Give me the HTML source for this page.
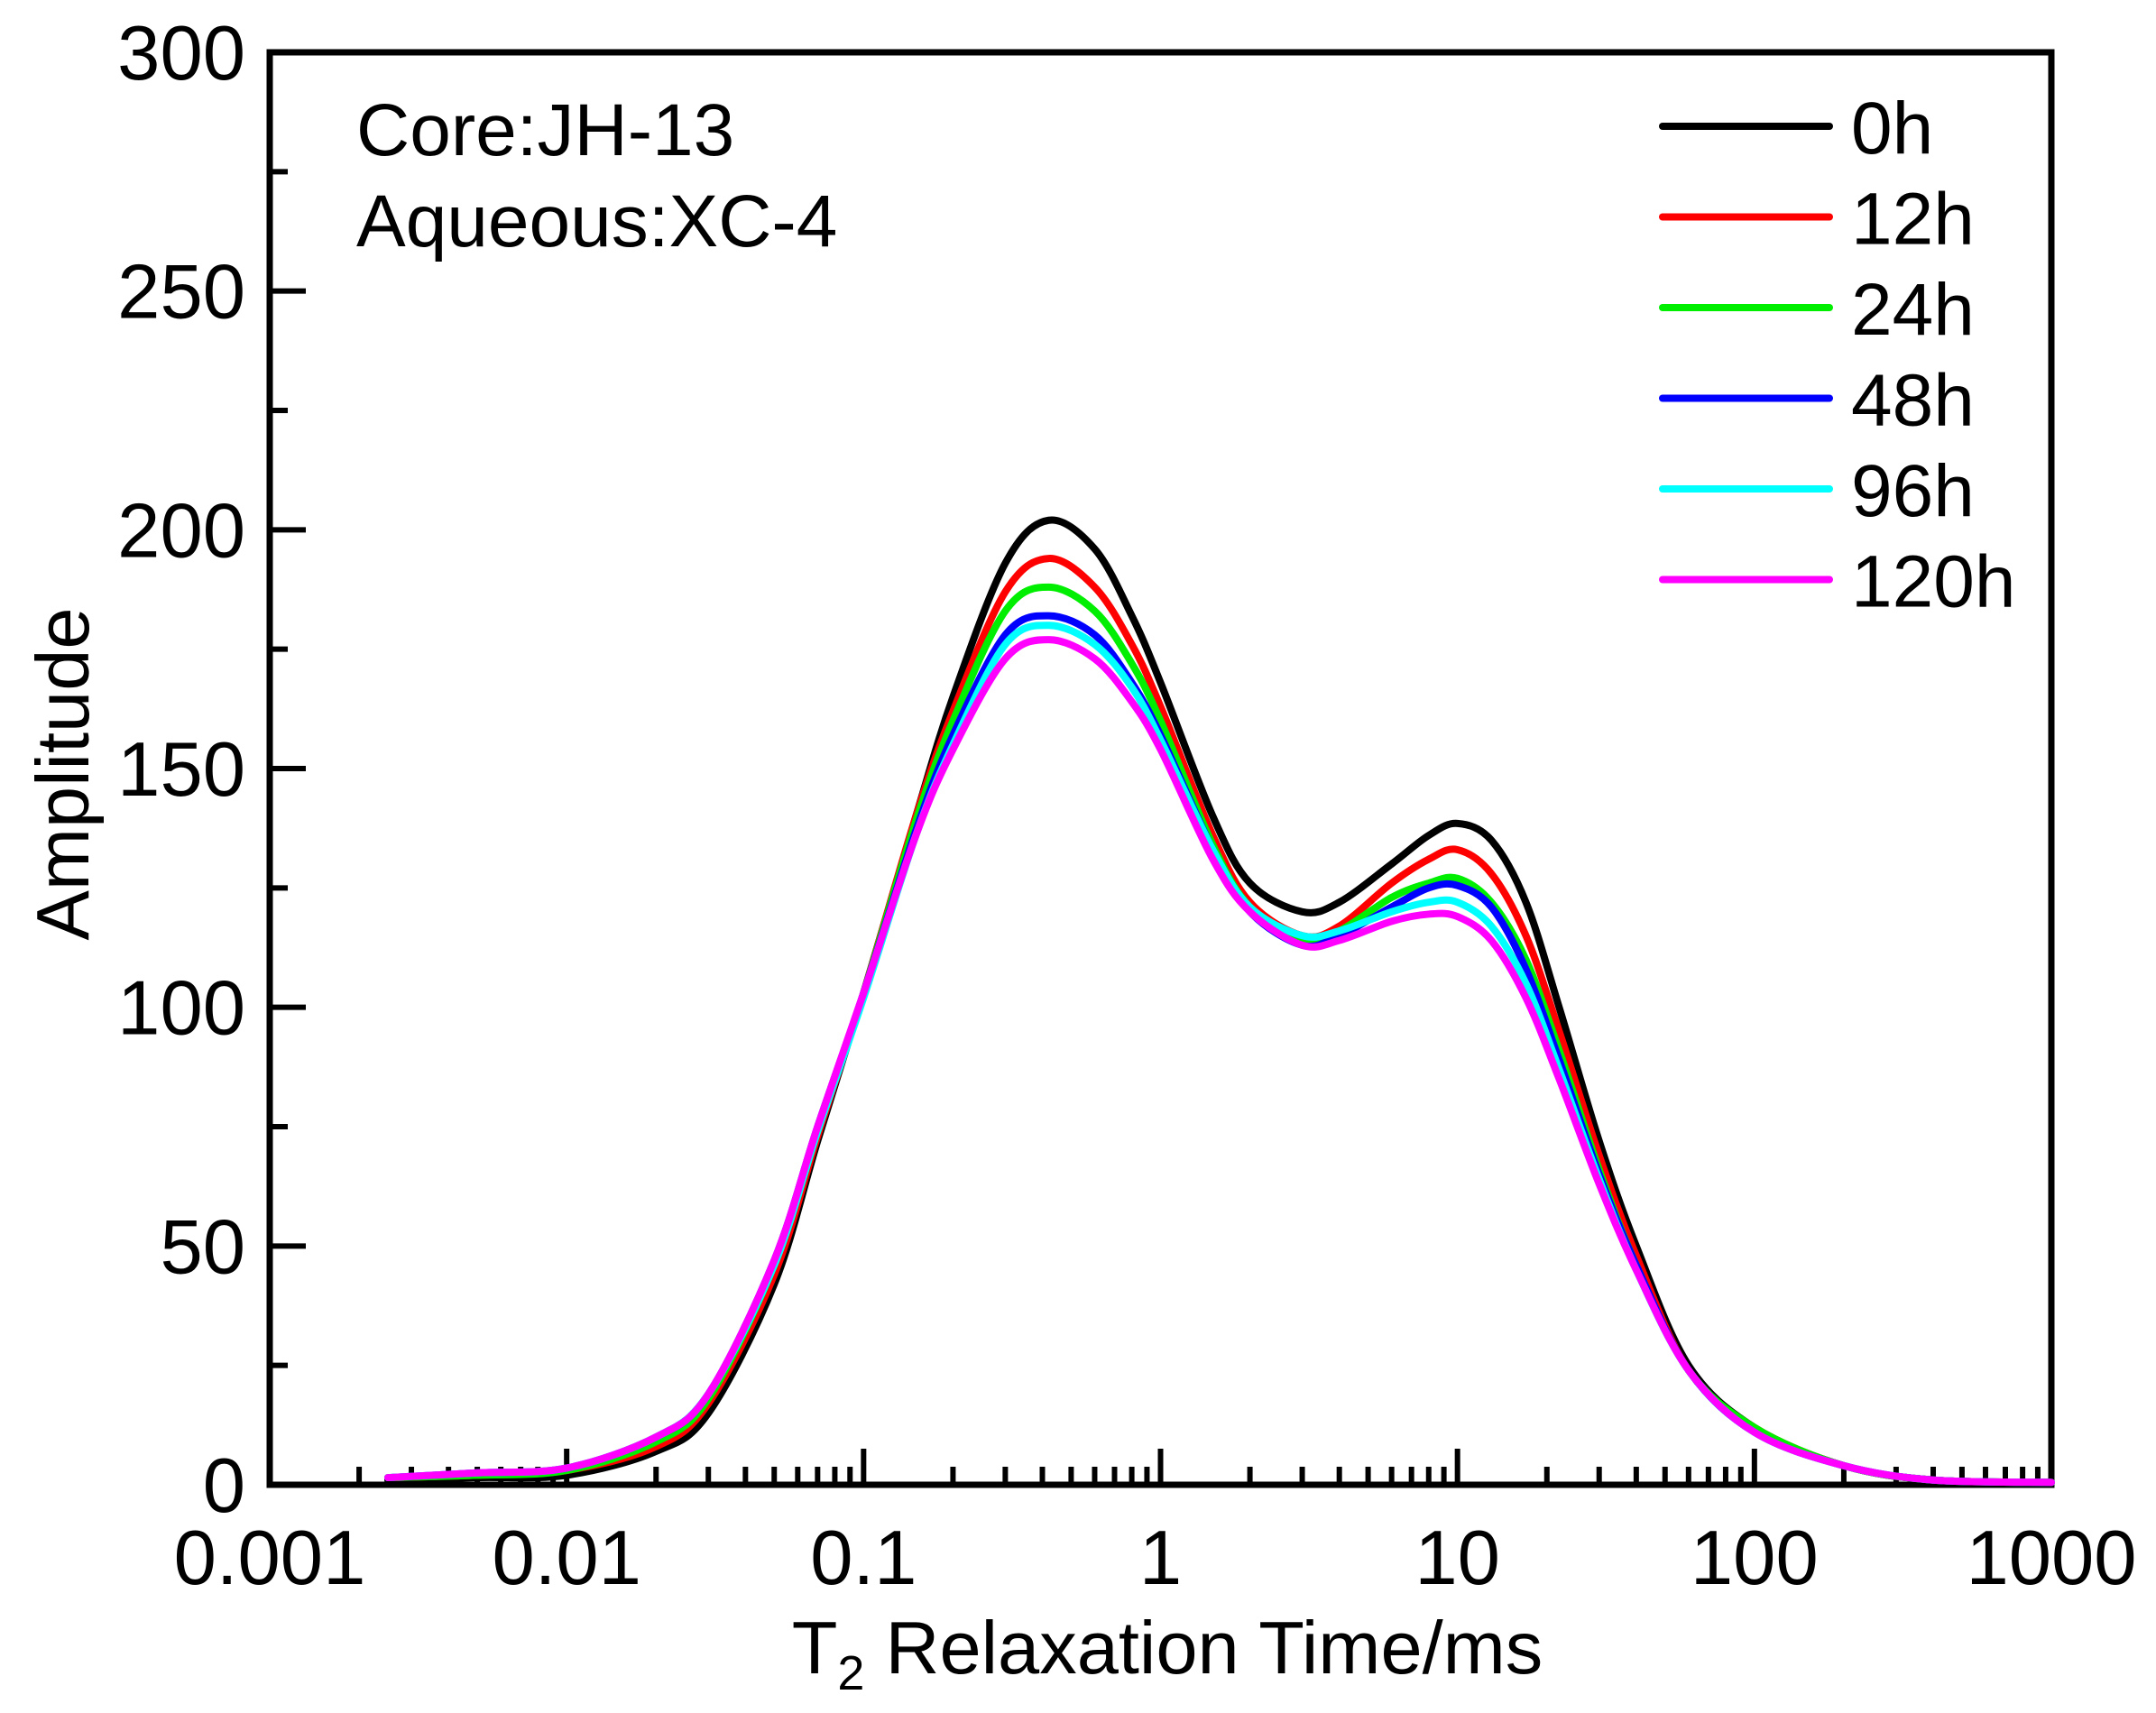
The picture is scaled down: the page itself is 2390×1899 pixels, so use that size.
<!DOCTYPE html>
<html><head><meta charset="utf-8"><style>
html,body{margin:0;padding:0;background:#fff}
svg{display:block}
text{font-family:"Liberation Sans",Arial,sans-serif;fill:#000}
</style></head><body>
<svg id="chart" width="2390" height="1899" viewBox="0 0 2390 1899" xmlns="http://www.w3.org/2000/svg">
<g id="grid"></g>
<g id="series"></g>
<g id="legend"></g>
<text x="395" y="172" font-size="82">Core:JH-13</text>
<text x="395" y="273" font-size="82">Aqueous:XC-4</text>
<text x="1294" y="1855" font-size="83" text-anchor="middle">T<tspan font-size="54" dy="18">2</tspan><tspan dy="-18"> Relaxation Time/ms</tspan></text>
<text transform="translate(98,858) rotate(-90)" font-size="83" text-anchor="middle">Amplitude</text>
</svg>
<script>
const xVals = [0.0025,0.005,0.01,0.02,0.03,0.05,0.07,0.1,0.15,0.2,0.3,0.42,0.6,0.8,1,1.5,2,3,4,6,8,10,13,17,22,30,40,60,100,200,400,1000];
const seriesNames = ["0h","12h","24h","48h","96h","120h"];
const seriesColors = ["#000000","#ff0000","#00ee00","#0000ff","#00ffff","#ff00ff"];
const s0h = [1,1.5,2,7,15,42,72,103,140,165,193,202,196,182,168,140,126,120,122,130,136,138.5,135,122,100,72,50,25,12,4,1,0.5];
const s12h = [1.5,2,3,8,17,44,73,103,140,162,187,194,188,176,163,136,122,115,117,126,131,133,128,115,95,69,48,24,12,4,1,0.5];
const s24h = [1.5,2,3,9,18,46,74,103,139,160,183,188,183,172,160,134,121,114,116,123,126,127,122,110,91,66,46,24,12,4,1,0.5];
const s48h = [1.5,2.5,3.5,10,19,47,75,103,137,157,178,182,178,168,157,133,120,113,115,121,125,125.5,121,108,89,65,46,24,11,4,1,0.5];
const s96h = [1.5,2.5,3.5,10,19,46,74,102,136,155,176,180,176,167,156,133,121,115,116,120,122,122,117,105,87,64,45,24,11,4,1,0.5];
const s120h = [1.5,2.5,3.5,10,19,47,75,103,136,154,173,177,173,164,154,131,120,113,114,118,119.5,119,114,102,85,63,45,24,11,4,1,0.5];
const seriesData = [s0h,s12h,s24h,s48h,s96h,s120h];
const xTickVals = [0.001,0.01,0.1,1,10,100,1000];
const xTickLabels = ["0.001","0.01","0.1","1","10","100","1000"];
const yTickVals = [0,50,100,150,200,250,300];

const NS="http://www.w3.org/2000/svg";
const X0=299,X1=2274,Y0=1646,Y1=58;
function xs(v){return X0+(Math.log10(v)+3)/6*(X1-X0);}
function ys(v){return Y0-v/300*(Y0-Y1);}
function mk(tag,attrs,parent){const e=document.createElementNS(NS,tag);for(const k in attrs)e.setAttribute(k,attrs[k]);parent.appendChild(e);return e;}

const axes=document.getElementById('grid');
for(let d=-3;d<3;d++){for(let m=2;m<10;m++){const v=m*Math.pow(10,d);const x=xs(v);
 const t=mk('line',{x1:x,x2:x,y1:Y0,y2:Y0-20,stroke:'#000','stroke-width':6},axes);
 
 }}
xTickVals.forEach((v,i)=>{const x=xs(v);
 const t=mk('line',{x1:x,x2:x,y1:Y0,y2:Y0-40,stroke:'#000','stroke-width':6},axes);
 
 
 const l=mk('text',{x:x,y:1756,'font-size':85,'text-anchor':'middle'},axes);l.textContent=xTickLabels[i];
 
 });
for(let v=25;v<300;v+=50){const y=ys(v);
 const t=mk('line',{x1:X0,x2:X0+20,y1:y,y2:y,stroke:'#000','stroke-width':6},axes);
 
 }
yTickVals.forEach(v=>{const y=ys(v);
 const t=mk('line',{x1:X0,x2:X0+40,y1:y,y2:y,stroke:'#000','stroke-width':6},axes);
 
 
 const l=mk('text',{x:272,y:y+30,'font-size':85,'text-anchor':'end'},axes);l.textContent=String(v);
 
 });
const frame=mk('rect',{x:X0,y:Y1,width:X1-X0,height:Y0-Y1,fill:'none',stroke:'#000','stroke-width':7},axes);



const sg=document.getElementById('series');
function smoothPath(pts){let d=`M${pts[0][0]},${pts[0][1]}`;
 for(let i=0;i<pts.length-1;i++){const p0=pts[Math.max(0,i-1)],p1=pts[i],p2=pts[i+1],p3=pts[Math.min(pts.length-1,i+2)];
  const c1=[p1[0]+(p2[0]-p0[0])/6,p1[1]+(p2[1]-p0[1])/6],c2=[p2[0]-(p3[0]-p1[0])/6,p2[1]-(p3[1]-p1[1])/6];
  d+=` C${c1[0]},${c1[1]} ${c2[0]},${c2[1]} ${p2[0]},${p2[1]}`;}
 return d;}
seriesData.forEach((arr,i)=>{const pts=arr.map((v,j)=>[xs(xVals[j]),ys(v)]);
 const p=mk('path',{d:smoothPath(pts),fill:'none',stroke:seriesColors[i],'stroke-width':8,'stroke-linejoin':'round','stroke-linecap':'round'},sg);
 
 });

const lg=document.getElementById('legend');
seriesNames.forEach((n,i)=>{const y=140+i*100.5;
 const l=mk('line',{x1:1843,x2:2028,y1:y,y2:y,stroke:seriesColors[i],'stroke-width':8,'stroke-linecap':'round'},lg);
 
 
 const t=mk('text',{x:2052,y:y+30,'font-size':82},lg);t.textContent=n;
 
 });
</script>
</body></html>
